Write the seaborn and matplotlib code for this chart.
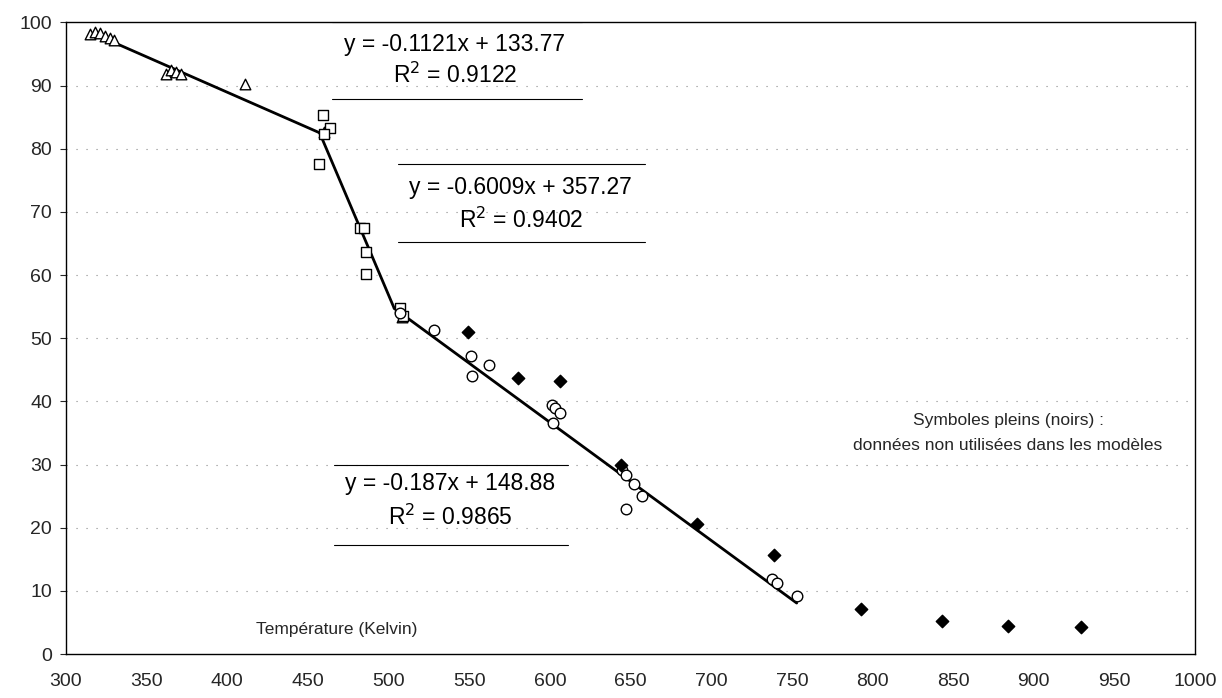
import numpy as np
import pandas as pd
import matplotlib
matplotlib.use("Agg")
import matplotlib.pyplot as plt
import seaborn as sns

# ---- data ----
tri_x = [315, 318, 321, 324, 327, 330, 362, 365, 368, 371, 411, 460, 508]
tri_y = [98.1, 98.4, 98.3, 97.8, 97.5, 97.2, 91.9, 92.4, 92.1, 91.8, 90.2, 82.6, 53.3]

sq_x = [457, 459.5, 463.5, 460, 482, 485, 486, 486, 507, 509]
sq_y = [77.5, 85.3, 83.3, 82.3, 67.5, 67.5, 63.7, 60.2, 54.8, 53.5]

circ_x = [507, 528, 551, 552, 562, 601, 603, 606, 602, 645, 647, 652, 657, 647, 738, 741, 753]
circ_y = [54.0, 51.3, 47.2, 44.0, 45.8, 39.5, 39.0, 38.2, 36.6, 29.2, 28.4, 26.9, 25.0, 22.9, 11.8, 11.2, 9.2]

dia_x = [549, 580, 606, 644, 691, 739, 793, 843, 884, 929]
dia_y = [51.0, 43.7, 43.2, 30.0, 20.6, 15.6, 7.1, 5.2, 4.5, 4.2]

slopes = [-0.1121, -0.6009, -0.187]
intercepts = [133.77, 357.27, 148.88]
r2 = [0.9122, 0.9402, 0.9865]
fit_start, fit_end = 318, 753

x_ticks = list(range(300, 1001, 50))
y_ticks = list(range(0, 101, 10))

# ---- figure ----
sns.set_theme(style="white")
plt.rcParams['font.family'] = ['Liberation Sans', 'DejaVu Sans']

fig = plt.figure(figsize=(12.22, 6.98), dpi=100)
ax = fig.add_axes([0.054, 0.063, 0.924, 0.905])

# regression segments (breakpoints = intersections of successive lines)
bx = [fit_start]
for i in range(len(slopes) - 1):
    bx.append((intercepts[i + 1] - intercepts[i]) / (slopes[i] - slopes[i + 1]))
bx.append(fit_end)
for i in range(len(slopes)):
    xs = [bx[i], bx[i + 1]]
    ys = [slopes[i] * v + intercepts[i] for v in xs]
    sns.lineplot(x=xs, y=ys, ax=ax, color="black", linewidth=2.0, zorder=2)

mk = dict(s=58, edgecolor="black", linewidth=1.0, zorder=3, legend=False)
sns.scatterplot(x=tri_x, y=tri_y, marker="^", facecolor="white", ax=ax, **mk)
sns.scatterplot(x=sq_x, y=sq_y, marker="s", facecolor="white", ax=ax, **mk)
sns.scatterplot(x=circ_x, y=circ_y, marker="o", facecolor="white", ax=ax, **mk)
sns.scatterplot(x=dia_x, y=dia_y, marker="D", facecolor="black", ax=ax,
                s=40, edgecolor="black", linewidth=1.0, zorder=3, legend=False)

ax.set_xlim(300, 1000)
ax.set_ylim(0, 100)
ax.set_xticks(x_ticks)
ax.set_yticks(y_ticks)
ax.tick_params(axis="x", length=0, pad=14, labelsize=14)
ax.tick_params(axis="y", length=4, width=0.8, direction="out", left=True,
               pad=6, labelsize=14)
for sp in ax.spines.values():
    sp.set_color("black")
    sp.set_linewidth(1.0)

for yv in y_ticks[1:-1]:
    ax.axhline(yv, color="#888888", linewidth=0.8, linestyle=(0, (1, 8)), zorder=1)

ax.set_xlabel("")
ax.set_ylabel("")

# equation boxes (top/bottom rules with centered text)
boxes = [
    dict(x0=465, x1=620, ytop=100, ybot=87.8, tx=541, ty1=96.5, ty2=91.6),
    dict(x0=506, x1=659, ytop=77.5, ybot=65.2, tx=582, ty1=73.9, ty2=68.7),
    dict(x0=466, x1=611, ytop=29.9, ybot=17.2, tx=538, ty1=27.0, ty2=21.7),
]
for b, m, c, r in zip(boxes, slopes, intercepts, r2):
    for yy in (b["ytop"], b["ybot"]):
        ax.plot([b["x0"], b["x1"]], [yy, yy], color="black", linewidth=0.8, zorder=2)
    ax.text(b["tx"], b["ty1"], f"y = {m:g}x + {c:.2f}", ha="center", va="center",
            fontsize=16.5, color="black")
    ax.text(b["tx"], b["ty2"], f"R$^2$ = {r:.4f}", ha="center", va="center",
            fontsize=16.5, color="black")

ax.text(884, 36.9, "Symboles pleins (noirs) :", ha="center", va="center", fontsize=12.5)
ax.text(884, 33.0, "données non utilisées dans les modèles", ha="center", va="center",
        fontsize=12.5)
ax.text(468, 3.9, "Température (Kelvin)", ha="center", va="center", fontsize=12.5)

fig.savefig("out.png", dpi=100, facecolor="white")
